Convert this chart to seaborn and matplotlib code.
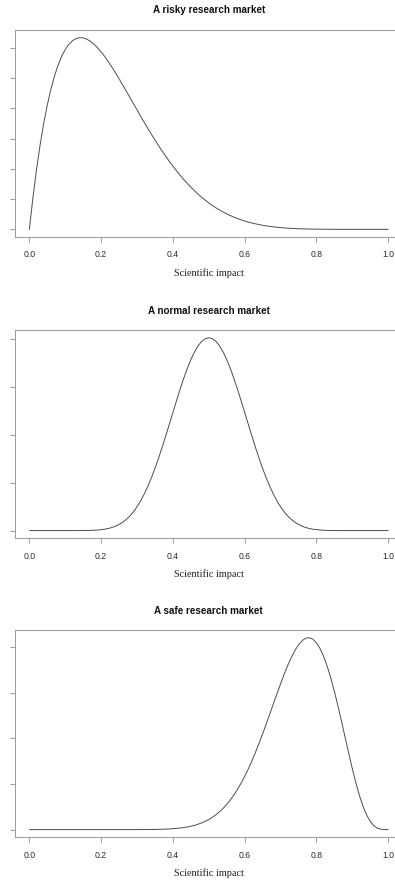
import matplotlib
matplotlib.use("Agg")
import matplotlib.pyplot as plt
import seaborn as sns

# Scientific impact grid shared by the three density curves
impact = [0.00, 0.01, 0.02, 0.03, 0.04, 0.05, 0.06, 0.07, 0.08, 0.09,
          0.10, 0.11, 0.12, 0.13, 0.14, 0.15, 0.16, 0.17, 0.18, 0.19,
          0.20, 0.21, 0.22, 0.23, 0.24, 0.25, 0.26, 0.27, 0.28, 0.29,
          0.30, 0.31, 0.32, 0.33, 0.34, 0.35, 0.36, 0.37, 0.38, 0.39,
          0.40, 0.41, 0.42, 0.43, 0.44, 0.45, 0.46, 0.47, 0.48, 0.49,
          0.50, 0.51, 0.52, 0.53, 0.54, 0.55, 0.56, 0.57, 0.58, 0.59,
          0.60, 0.61, 0.62, 0.63, 0.64, 0.65, 0.66, 0.67, 0.68, 0.69,
          0.70, 0.71, 0.72, 0.73, 0.74, 0.75, 0.76, 0.77, 0.78, 0.79,
          0.80, 0.81, 0.82, 0.83, 0.84, 0.85, 0.86, 0.87, 0.88, 0.89,
          0.90, 0.91, 0.92, 0.93, 0.94, 0.95, 0.96, 0.97, 0.98, 0.99,
          1.00]

risky_density = [0.000, 0.527, 0.992, 1.399, 1.753, 2.058, 2.318, 2.536, 2.716, 2.862,
                 2.976, 3.061, 3.121, 3.157, 3.172, 3.168, 3.148, 3.112, 3.064, 3.005,
                 2.936, 2.859, 2.774, 2.684, 2.590, 2.492, 2.390, 2.288, 2.184, 2.080,
                 1.977, 1.873, 1.772, 1.672, 1.574, 1.478, 1.385, 1.295, 1.209, 1.125,
                 1.045, 0.968, 0.895, 0.826, 0.760, 0.698, 0.639, 0.583, 0.531, 0.483,
                 0.438, 0.395, 0.356, 0.320, 0.287, 0.256, 0.228, 0.202, 0.178, 0.157,
                 0.138, 0.120, 0.105, 0.091, 0.078, 0.067, 0.057, 0.049, 0.041, 0.034,
                 0.029, 0.024, 0.019, 0.016, 0.013, 0.010, 0.008, 0.006, 0.005, 0.004,
                 0.003, 0.002, 0.002, 0.001, 0.001, 0.001, 0.000, 0.000, 0.000, 0.000,
                 0.000, 0.000, 0.000, 0.000, 0.000, 0.000, 0.000, 0.000, 0.000, 0.000,
                 0.000]

normal_density = [0.000, 0.000, 0.000, 0.000, 0.000, 0.000, 0.000, 0.000, 0.000, 0.000,
                  0.000, 0.000, 0.000, 0.000, 0.001, 0.001, 0.002, 0.004, 0.007, 0.012,
                  0.019, 0.029, 0.044, 0.064, 0.092, 0.128, 0.174, 0.232, 0.305, 0.392,
                  0.497, 0.620, 0.762, 0.923, 1.102, 1.299, 1.513, 1.740, 1.978, 2.222,
                  2.469, 2.714, 2.952, 3.178, 3.386, 3.572, 3.731, 3.859, 3.953, 4.010,
                  4.030, 4.010, 3.953, 3.859, 3.731, 3.572, 3.386, 3.178, 2.952, 2.714,
                  2.469, 2.222, 1.978, 1.740, 1.513, 1.299, 1.102, 0.923, 0.762, 0.620,
                  0.497, 0.392, 0.305, 0.232, 0.174, 0.128, 0.092, 0.064, 0.044, 0.029,
                  0.019, 0.012, 0.007, 0.004, 0.002, 0.001, 0.001, 0.000, 0.000, 0.000,
                  0.000, 0.000, 0.000, 0.000, 0.000, 0.000, 0.000, 0.000, 0.000, 0.000,
                  0.000]

safe_density = [0.000, 0.000, 0.000, 0.000, 0.000, 0.000, 0.000, 0.000, 0.000, 0.000,
                0.000, 0.000, 0.000, 0.000, 0.000, 0.000, 0.000, 0.000, 0.000, 0.000,
                0.000, 0.000, 0.000, 0.000, 0.000, 0.000, 0.000, 0.000, 0.000, 0.000,
                0.001, 0.001, 0.001, 0.002, 0.003, 0.004, 0.006, 0.008, 0.011, 0.015,
                0.020, 0.027, 0.035, 0.045, 0.058, 0.074, 0.094, 0.118, 0.147, 0.181,
                0.222, 0.270, 0.326, 0.391, 0.467, 0.553, 0.650, 0.760, 0.882, 1.018,
                1.166, 1.328, 1.504, 1.691, 1.889, 2.097, 2.312, 2.533, 2.756, 2.977,
                3.194, 3.402, 3.596, 3.771, 3.923, 4.047, 4.138, 4.191, 4.203, 4.170,
                4.091, 3.965, 3.793, 3.576, 3.318, 3.025, 2.704, 2.363, 2.014, 1.666,
                1.330, 1.019, 0.741, 0.505, 0.317, 0.177, 0.084, 0.031, 0.007, 0.001,
                0.000]

titles = ["A risky research market", "A normal research market", "A safe research market"]
x_label = "Scientific impact"
x_ticks = [0.0, 0.2, 0.4, 0.6, 0.8, 1.0]
x_tick_labels = ["0.0", "0.2", "0.4", "0.6", "0.8", "1.0"]
y_ticks_risky = [0.0, 0.5, 1.0, 1.5, 2.0, 2.5, 3.0]
y_ticks_normal = [0, 1, 2, 3, 4]
y_ticks_safe = [0, 1, 2, 3, 4]

sns.set_theme(style="white")
plt.rcParams["font.family"] = ["Liberation Sans", "DejaVu Sans"]

W, H = 395, 882
fig = plt.figure(figsize=(W / 100, H / 100), dpi=100)

# panel boxes in pixels: left, top, right, bottom (right edge runs past the canvas)
boxes = [(15, 30, 402.6, 237.0), (15, 330, 402.6, 538.3), (15, 630, 402.6, 837.3)]
tick_pad = 6.0          # points
xlabel_offset = 36.0    # pixels below the box
title_offset = 19.5     # pixels above the box

panels = [
    (risky_density, y_ticks_risky),
    (normal_density, y_ticks_normal),
    (safe_density, y_ticks_safe),
]

frame_color = "#9c9c9c"
for (density, yticks), (l, t, r, b), title in zip(panels, boxes, titles):
    ax = fig.add_axes([l / W, 1 - b / H, (r - l) / W, (b - t) / H])
    sns.lineplot(x=impact, y=density, ax=ax, color="#4d4d4d", linewidth=0.7)

    peak = max(density)
    ax.set_xlim(-0.04, 1.04)
    ax.set_ylim(-0.04 * peak, 1.04 * peak)

    ax.set_xticks(x_ticks)
    ax.set_xticklabels(x_tick_labels)
    ax.set_yticks(yticks)
    ax.set_yticklabels([])
    ax.tick_params(axis="both", direction="out", length=3.6, width=0.75,
                   color=frame_color, labelsize=6.2, labelcolor="#2a2a2a",
                   bottom=True, left=True)
    ax.tick_params(axis="x", pad=tick_pad)
    ax.set_xlabel("")
    ax.set_ylabel("")
    for side in ["left", "top", "bottom", "right"]:
        ax.spines[side].set_visible(True)
        ax.spines[side].set_color(frame_color)
        ax.spines[side].set_linewidth(0.75)

    box_h = b - t
    ax.text(0.5, 1 + title_offset / box_h, title, transform=ax.transAxes,
            ha="center", va="center", fontsize=7.1, fontweight="bold",
            color="#111111")
    ax.text(0.5, -xlabel_offset / box_h, x_label, transform=ax.transAxes,
            ha="center", va="center", fontsize=7.4,
            family=["Liberation Serif", "DejaVu Serif"], color="#222222")

fig.savefig("out.png", dpi=100, facecolor="white")
